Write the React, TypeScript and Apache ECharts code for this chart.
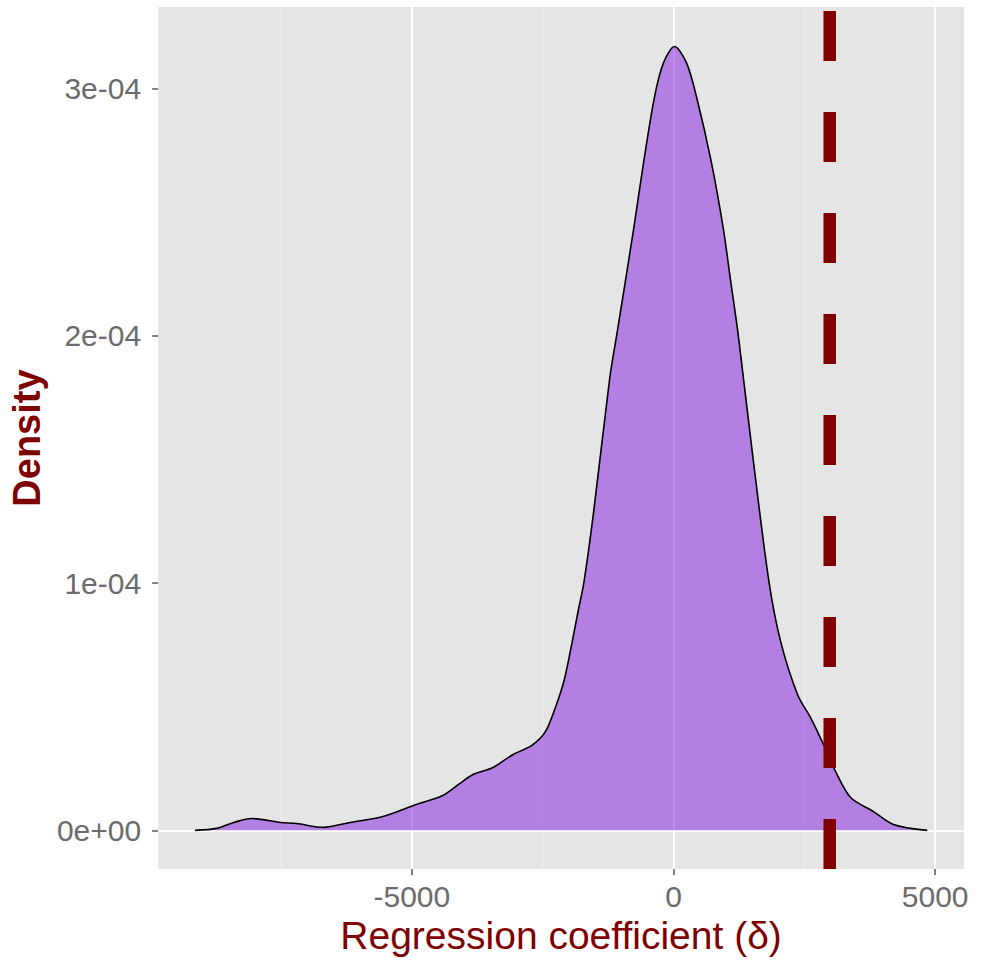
import React, { useEffect, useRef } from "react";
import * as echarts from "echarts";

// Density curve (x = regression coefficient, y = density)
const densityX = [
  -9144, -8726, -8403, -8061, -7509, -7205, -6692, -6179, -5551, -4981, -4411, -4087,
  -3840, -3460, -3080, -2700, -2452, -2262, -2091, -1939, -1825, -1711, -1521, -1217,
  -1084, -760, -570, -361, -190, 19, 247, 437, 722, 951, 1084, 1236, 1521, 1825, 2053,
  2376, 2624, 2871, 3099, 3384, 3821, 4201, 4848,
];
const densityY = [
  0, 8.0e-7, 3.2e-6, 4.8e-6, 3.2e-6, 2.8e-6, 1.2e-6, 3.2e-6, 5.6e-6, 1.0e-5, 1.41e-5, 1.89e-5,
  2.25e-5, 2.53e-5, 3.05e-5, 3.45e-5, 3.98e-5, 4.94e-5, 6.06e-5, 7.59e-5, 8.84e-5, 1.004e-4,
  1.297e-4, 1.831e-4, 2.004e-4, 2.434e-4, 2.703e-4, 2.968e-4, 3.104e-4, 3.169e-4, 3.104e-4,
  2.968e-4, 2.703e-4, 2.434e-4, 2.233e-4, 2.004e-4, 1.502e-4, 1.004e-4, 7.59e-5, 5.46e-5,
  4.54e-5, 3.45e-5, 2.37e-5, 1.33e-5, 7.6e-6, 2.4e-6, 0,
];

const referenceX = 2985; // dashed vertical line

const xTickValues = [-5000, 0, 5000];
const xTickLabels = ["-5000", "0", "5000"];
const xMinorValues = [-7500, -2500, 2500];
const yTickValues = [0, 1e-4, 2e-4, 3e-4];
const yTickLabels = ["0e+00", "1e-04", "2e-04", "3e-04"];
const yMinorValues = [0.5e-4, 1.5e-4, 2.5e-4];

const xRange = [-9848, 5551];
const yRange = [-1.566e-5, 3.329e-4];

const xTitle = "Regression coefficient (δ)";
const yTitle = "Density";

const FONT = "'Liberation Sans', Arial, Helvetica, sans-serif";

export default function App() {
  const ref = useRef<HTMLDivElement>(null);

  useEffect(() => {
    document.body.style.margin = "0";
    if (!ref.current) return;
    const chart = echarts.init(ref.current, undefined, { renderer: "svg" });

    const labelFor = (vals: number[], labels: string[]) => (v: number) => {
      let best = 0;
      let bd = Infinity;
      vals.forEach((t, i) => {
        const d = Math.abs(t - v);
        if (d < bd) {
          bd = d;
          best = i;
        }
      });
      return labels[best];
    };

    chart.setOption({
      animation: false,
      backgroundColor: "#FFFFFF",
      grid: {
        left: 154,
        right: 21,
        top: 7,
        bottom: 85,
        show: true,
        backgroundColor: "#E5E5E5",
        borderWidth: 0,
      },
      xAxis: {
        type: "value",
        min: xRange[0],
        max: xRange[1],
        name: xTitle,
        nameLocation: "middle",
        nameGap: 41,
        nameTextStyle: { color: "#7F0000", fontSize: 39, fontFamily: FONT },
        axisLine: { show: false, onZero: false },
        axisTick: {
          show: true,
          customValues: xTickValues,
          length: 6,
          lineStyle: { color: "#555555", width: 1.5 },
        },
        axisLabel: {
          customValues: xTickValues,
          formatter: labelFor(xTickValues, xTickLabels),
          color: "#6B6B6B",
          fontSize: 30,
          fontFamily: FONT,
          margin: 12,
        },
        splitLine: { show: false },
      },
      yAxis: {
        type: "value",
        min: yRange[0],
        max: yRange[1],
        name: yTitle,
        nameLocation: "middle",
        nameGap: 100,
        nameRotate: 90,
        nameTextStyle: { color: "#7F0000", fontSize: 38, fontWeight: "bold", fontFamily: FONT },
        axisLine: { show: false, onZero: false },
        axisTick: {
          show: true,
          customValues: yTickValues,
          length: 6,
          lineStyle: { color: "#555555", width: 1.5 },
        },
        axisLabel: {
          customValues: yTickValues,
          formatter: labelFor(yTickValues, yTickLabels),
          color: "#6B6B6B",
          fontSize: 30,
          fontFamily: FONT,
          margin: 17,
        },
        splitLine: { show: false },
      },
      series: [
        {
          name: "grid-minor",
          type: "line",
          data: [],
          z: 1,
          silent: true,
          markLine: {
            silent: true,
            z: 1,
            symbol: "none",
            label: { show: false },
            lineStyle: { color: "#F2F2F2", width: 1, type: "solid" },
            emphasis: { disabled: true },
            data: [
              ...xMinorValues.map((v) => ({ xAxis: v })),
              ...yMinorValues.map((v) => ({ yAxis: v })),
            ],
          },
        },
        {
          name: "grid-major",
          type: "line",
          data: [],
          z: 1,
          silent: true,
          markLine: {
            silent: true,
            z: 1,
            symbol: "none",
            label: { show: false },
            lineStyle: { color: "#FFFFFF", width: 2, type: "solid" },
            emphasis: { disabled: true },
            data: [
              ...xTickValues.map((v) => ({ xAxis: v })),
              ...yTickValues.map((v) => ({ yAxis: v })),
            ],
          },
        },
        {
          name: "density",
          type: "line",
          z: 3,
          data: densityX.map((x, i) => [x, densityY[i]]),
          showSymbol: false,
          symbol: "none",
          smooth: 0.3,
          lineStyle: { color: "#000000", width: 1.6 },
          areaStyle: { color: "#8A2BE2", opacity: 0.55, origin: 0 },
          silent: true,
        },
        {
          name: "reference",
          type: "line",
          z: 4,
          data: [
            [referenceX, yRange[0]],
            [referenceX, yRange[1]],
          ],
          showSymbol: false,
          symbol: "none",
          lineStyle: { color: "#7F0000", width: 12.5, type: [50, 51], cap: "butt" },
          silent: true,
        },
      ],
    });

    return () => chart.dispose();
  }, []);

  return <div ref={ref} style={{ width: 985, height: 960 }} />;
}
